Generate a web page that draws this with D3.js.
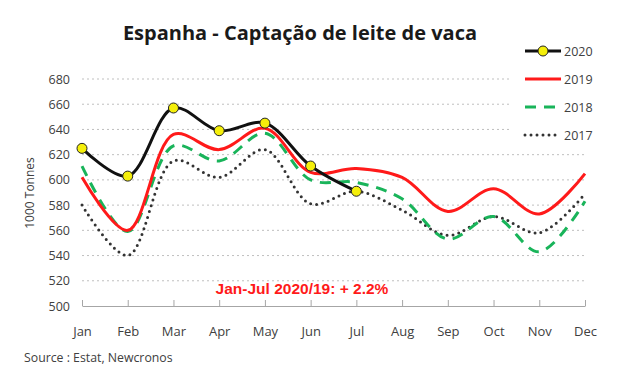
<!DOCTYPE html>
<html>
<head>
<meta charset="utf-8">
<script src="https://cdn.jsdelivr.net/npm/d3@7"></script>
<style>
  body { margin: 0; background: #fff; }
  svg { display: block; }
</style>
</head>
<body>
<div id="chart"></div>
<script>
var months = ['Jan', 'Feb', 'Mar', 'Apr', 'May', 'Jun', 'Jul', 'Aug', 'Sep', 'Oct', 'Nov', 'Dec'];
var yTicks = [500, 520, 540, 560, 580, 600, 620, 640, 660, 680];

var values2020 = [625, 603, 657, 639, 645, 611, 591];
var values2019 = [602, 560, 636, 624, 641, 606, 609, 602, 575, 593, 573, 605];
var values2018 = [611, 559, 627, 615, 637, 600, 598, 585, 553, 571, 543, 583];
var values2017 = [580, 540, 615, 602, 624, 581, 591, 576, 556, 571, 558, 589];

var seriesNames = ['2020', '2019', '2018', '2017'];

var fullWidth = 621;
var fullHeight = 386;
var mainFont = 'Open Sans, sans-serif';
var textColor = '#404040';
var gridColor = '#bfbfbf';

window.onload = function() {
    render();
};

function render() {
    var svg = d3.select('#chart').append('svg')
        .attr('width', fullWidth)
        .attr('height', fullHeight);

    var x = d3.scalePoint()
        .domain(months)
        .range([82, 585]);

    var y = d3.scaleLinear()
        .domain([500, 680])
        .range([306, 79]);

    // title
    svg.append('text')
        .attr('x', 300)
        .attr('y', 40)
        .style('text-anchor', 'middle')
        .style('font-family', mainFont)
        .style('font-weight', 'bold')
        .style('font-size', '20px')
        .style('fill', '#1a1a1a')
        .text('Espanha - Captação de leite de vaca');

    // dotted grid lines
    svg.append('g')
        .selectAll('line')
        .data(yTicks.slice(1))
        .enter()
        .append('line')
        .attr('x1', 82)
        .attr('x2', 585)
        .attr('y1', function(d) { return y(d); })
        .attr('y2', function(d) { return y(d); })
        .attr('stroke', gridColor)
        .attr('stroke-width', 1)
        .attr('stroke-dasharray', '2 3');

    // y axis labels
    var yAxis = d3.axisLeft(y)
        .tickValues(yTicks)
        .tickSize(0)
        .tickPadding(0);
    var yg = svg.append('g')
        .attr('transform', 'translate(70,0)')
        .call(yAxis);
    yg.select('.domain').remove();
    yg.selectAll('text')
        .style('font-family', mainFont)
        .style('font-size', '12.5px')
        .style('fill', textColor);

    // x axis
    var xAxis = d3.axisBottom(x)
        .tickSize(-6)
        .tickPadding(0)
        .tickSizeOuter(0);
    var xg = svg.append('g')
        .attr('transform', 'translate(0,306)')
        .call(xAxis);
    xg.select('.domain')
        .attr('stroke', '#a6a6a6');
    xg.selectAll('.tick line')
        .attr('stroke', '#a6a6a6');
    xg.selectAll('text')
        .attr('y', 21)
        .style('font-family', mainFont)
        .style('font-size', '13px')
        .style('fill', textColor);

    // y axis title
    svg.append('text')
        .attr('transform', 'translate(34,193) rotate(-90)')
        .style('text-anchor', 'middle')
        .style('font-family', mainFont)
        .style('font-size', '12px')
        .style('fill', textColor)
        .text('1000 Tonnes');

    var line = d3.line()
        .x(function(d, i) { return x(months[i]); })
        .y(function(d) { return y(d); })
        .curve(d3.curveCatmullRom.alpha(0.5));

    svg.append('path')
        .attr('d', line(values2017))
        .attr('fill', 'none')
        .attr('stroke', '#333')
        .attr('stroke-width', 3)
        .attr('stroke-linecap', 'round')
        .attr('stroke-dasharray', '0 6');

    svg.append('path')
        .attr('d', line(values2018))
        .attr('fill', 'none')
        .attr('stroke', '#19b45a')
        .attr('stroke-width', 3)
        .attr('stroke-dasharray', '11 8');

    svg.append('path')
        .attr('d', line(values2019))
        .attr('fill', 'none')
        .attr('stroke', '#ff1a1a')
        .attr('stroke-width', 3);

    svg.append('path')
        .attr('d', line(values2020))
        .attr('fill', 'none')
        .attr('stroke', '#111')
        .attr('stroke-width', 3);

    svg.append('g')
        .selectAll('circle')
        .data(values2020)
        .enter()
        .append('circle')
        .attr('cx', function(d, i) { return x(months[i]); })
        .attr('cy', function(d) { return y(d); })
        .attr('r', 5)
        .attr('fill', '#f5ef0a')
        .attr('stroke', '#222')
        .attr('stroke-width', 1);

    // annotation
    svg.append('text')
        .attr('x', 302)
        .attr('y', 294)
        .style('text-anchor', 'middle')
        .style('font-family', 'Liberation Sans, Arial, sans-serif')
        .style('font-weight', 'bold')
        .style('font-size', '15.5px')
        .style('fill', '#ff1a1a')
        .text('Jan-Jul 2020/19: + 2.2%');

    makeLegend(svg);

    // source
    svg.append('text')
        .attr('x', 24)
        .attr('y', 362)
        .style('font-family', mainFont)
        .style('font-size', '12.3px')
        .style('fill', textColor)
        .text('Source : Estat, Newcronos');
}

function makeLegend(svg) {
    svg.append('rect')
        .attr('x', 512)
        .attr('y', 38)
        .attr('width', 109)
        .attr('height', 108)
        .attr('fill', '#fff');

    var rowY = [51, 79, 107, 135];
    var styles = [
        { color: '#111', dash: null, cap: 'butt' },
        { color: '#ff1a1a', dash: null, cap: 'butt' },
        { color: '#19b45a', dash: '11 8', cap: 'butt' },
        { color: '#333', dash: '0 6', cap: 'round' }
    ];

    for (var i = 0; i < seriesNames.length; i++) {
        var s = styles[i];
        var l = svg.append('line')
            .attr('x1', 525)
            .attr('x2', 561)
            .attr('y1', rowY[i])
            .attr('y2', rowY[i])
            .attr('stroke', s.color)
            .attr('stroke-width', 3)
            .attr('stroke-linecap', s.cap);
        if (s.dash) l.attr('stroke-dasharray', s.dash);

        if (i === 0) {
            svg.append('circle')
                .attr('cx', 543)
                .attr('cy', rowY[i])
                .attr('r', 5)
                .attr('fill', '#f5ef0a')
                .attr('stroke', '#222')
                .attr('stroke-width', 1);
        }

        svg.append('text')
            .attr('x', 564)
            .attr('y', rowY[i] + 4.5)
            .style('font-family', mainFont)
            .style('font-size', '12.5px')
            .style('fill', textColor)
            .text(seriesNames[i]);
    }
}
</script>
</body>
</html>
